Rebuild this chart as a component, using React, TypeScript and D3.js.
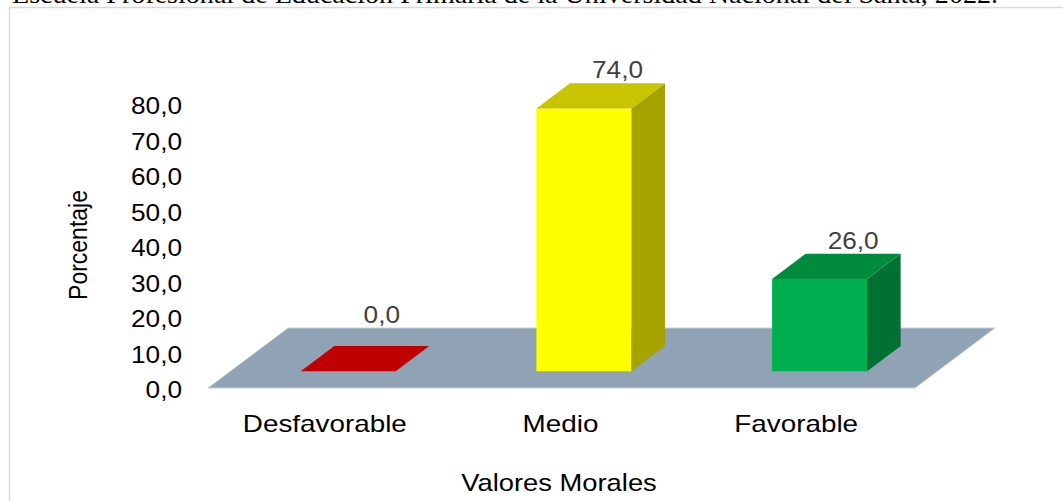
import React from "react";
import * as d3 from "d3";

// data
const categories = ["Desfavorable", "Medio", "Favorable"];
const values = [0.0, 74.0, 26.0];
const yTicks = [0, 10, 20, 30, 40, 50, 60, 70, 80];

const frontColors = ["#C00000", "#FFFF00", "#00B050"];
const topColors = ["#C00000", "#C8C400", "#008A3E"];
const sideColors = ["#A00000", "#A6A300", "#007033"];

const caption =
  "Escuela Profesional de Educación Primaria de la Universidad Nacional del Santa, 2022.";

const W = 1063;
const H = 501;
const FONT = "'Liberation Sans', Arial, sans-serif";

const fmt = (v: number) => v.toFixed(1).replace(".", ",");

// the picture is a bit wider than tall, so the text is stretched sideways
function T(props: {
  x: number;
  y: number;
  anchor?: string;
  size?: number;
  sx?: number;
  fill?: string;
  children: React.ReactNode;
}) {
  const { x, y, anchor = "middle", size = 23, sx = 1.14, fill = "#000", children } = props;
  return (
    <text
      transform={`translate(${x},${y}) scale(${sx},1)`}
      textAnchor={anchor}
      fontSize={size}
      fontFamily={FONT}
      fill={fill}
    >
      {children}
    </text>
  );
}

export default function App() {
  // floor front edge spans the category band
  const floorLeft = 208;
  const floorRight = 915;
  const floorFront = 388;
  const depth = { dx: 80, dy: -60 };
  const f0 = 0.28; // bar front, fraction of floor depth
  const f1 = 0.7; // bar back

  const x = d3.scaleBand<string>().domain(categories).range([floorLeft, floorRight]).padding(0);
  const y = d3.scaleLinear().domain([0, 80]).range([390, 106]);
  const barW = x.bandwidth() * 0.403;

  const pts = (p: [number, number][]) => p.map((d) => d.join(",")).join(" ");

  const floor: [number, number][] = [
    [floorLeft, floorFront],
    [floorLeft + depth.dx, floorFront + depth.dy],
    [floorRight + depth.dx, floorFront + depth.dy],
    [floorRight, floorFront],
  ];

  return (
    <svg
      width={W}
      height={H}
      style={{ position: "absolute", left: 0, top: 0, background: "#fff" }}
    >
      <text
        x={12}
        y={3}
        fontFamily="'Liberation Serif', 'Times New Roman', serif"
        fontSize={25}
        textLength={986}
        lengthAdjust="spacingAndGlyphs"
        fill="#000"
      >
        {caption}
      </text>
      <path d={`M9.5,${H} V7.5 H${W}`} fill="none" stroke="#d9d9d9" strokeWidth={1.5} />

      {/* floor */}
      <polygon points={pts(floor)} fill="#8FA3B5" stroke="#c5ced8" strokeWidth={1} />

      {/* y tick labels */}
      {yTicks.map((t) => (
        <T key={t} x={182} y={y(t) + 8} anchor="end">
          {fmt(t)}
        </T>
      ))}

      <text
        transform={`translate(87,245) rotate(-90) scale(1,1.12)`}
        textAnchor="middle"
        fontSize={23}
        fontFamily={FONT}
      >
        Porcentaje
      </text>

      {/* bars */}
      {categories.map((c, i) => {
        const cx = x(c)! + x.bandwidth() / 2;
        const h = y(0) - y(values[i]);
        const fx = cx - barW / 2 + depth.dx * f0;
        const fy = floorFront + depth.dy * f0;
        const bdx = depth.dx * (f1 - f0);
        const bdy = depth.dy * (f1 - f0);
        const top = fy - h;
        const front: [number, number][] = [
          [fx, fy],
          [fx, top],
          [fx + barW, top],
          [fx + barW, fy],
        ];
        const lid: [number, number][] = [
          [fx, top],
          [fx + bdx, top + bdy],
          [fx + barW + bdx, top + bdy],
          [fx + barW, top],
        ];
        const side: [number, number][] = [
          [fx + barW, top],
          [fx + barW + bdx, top + bdy],
          [fx + barW + bdx, fy + bdy],
          [fx + barW, fy],
        ];
        const labelY = Math.min(top + bdy, floorFront + depth.dy) - 5;
        return (
          <g key={c}>
            {h > 0.5 && <polygon points={pts(front)} fill={frontColors[i]} />}
            {h > 0.5 && <polygon points={pts(side)} fill={sideColors[i]} />}
            <polygon points={pts(lid)} fill={topColors[i]} />
            <T x={fx + bdx + barW / 2} y={labelY} fill="#404040">
              {fmt(values[i])}
            </T>
          </g>
        );
      })}

      {/* category labels */}
      {categories.map((c) => (
        <T key={c} x={x(c)! + x.bandwidth() / 2 - 1} y={432} size={24} sx={1.16}>
          {c}
        </T>
      ))}

      <T x={559} y={491} size={24} sx={1.14}>
        Valores Morales
      </T>
    </svg>
  );
}
